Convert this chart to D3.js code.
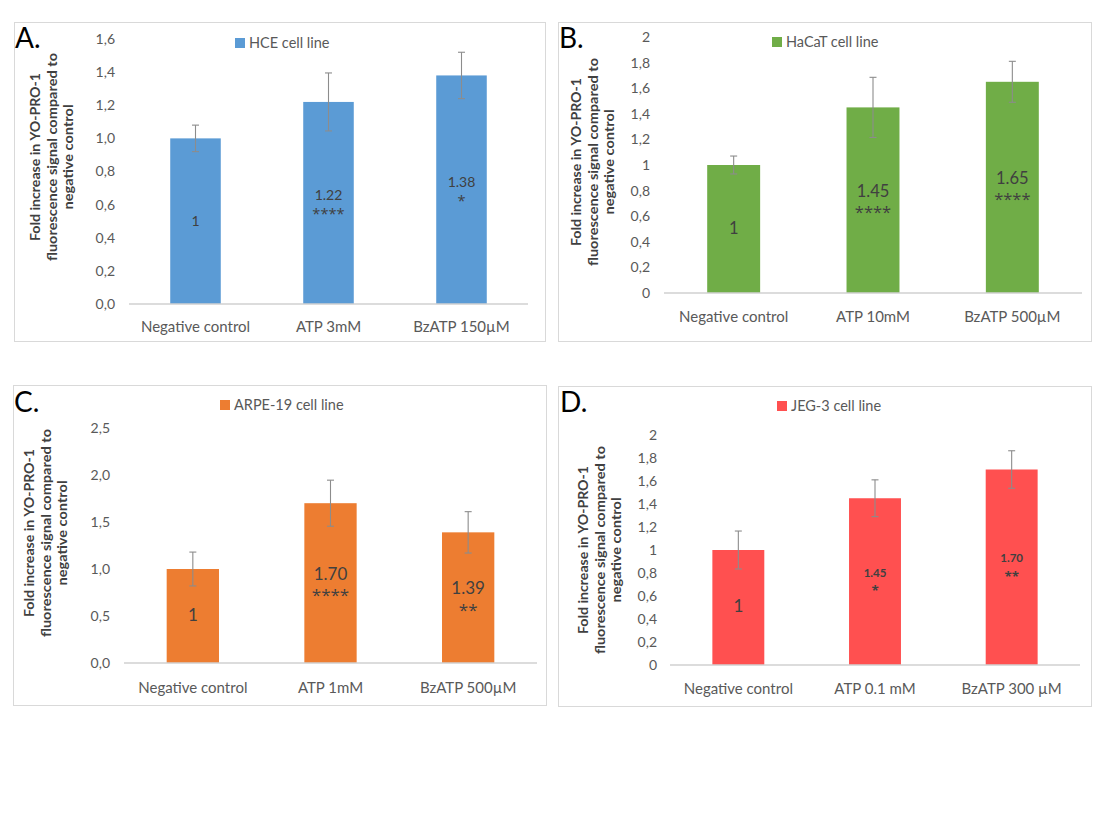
<!DOCTYPE html>
<html><head><meta charset="utf-8">
<script src="https://cdn.jsdelivr.net/npm/d3@7/dist/d3.min.js"></script>
<style>
body{margin:0;background:#fff;}
svg{display:block;font-family:Lato,"Open Sans",sans-serif;}
</style></head>
<body><svg id="c" width="1099" height="831"></svg>
<script>
// ---------- data ----------
const panelLetters = ["A.", "B.", "C.", "D."];
const legendNames = ["HCE cell line", "HaCaT cell line", "ARPE-19 cell line", "JEG-3 cell line"];
const yTitleLines = ["Fold increase in YO-PRO-1", "fluorescence signal compared to", "negative control"];

const categoriesA = ["Negative control", "ATP 3mM", "BzATP 150µM"];
const valuesA = [1, 1.22, 1.38];
const errorsA = [0.08, 0.175, 0.14];
const valueLabelsA = ["1", "1.22", "1.38"];
const starsA = ["", "****", "*"];
const yTicksA = [0, 0.2, 0.4, 0.6, 0.8, 1.0, 1.2, 1.4, 1.6];
const yTickLabelsA = ["0,0", "0,2", "0,4", "0,6", "0,8", "1,0", "1,2", "1,4", "1,6"];

const categoriesB = ["Negative control", "ATP 10mM", "BzATP 500µM"];
const valuesB = [1, 1.45, 1.65];
const errorsB = [0.07, 0.235, 0.16];
const valueLabelsB = ["1", "1.45", "1.65"];
const starsB = ["", "****", "****"];
const yTicksB = [0, 0.2, 0.4, 0.6, 0.8, 1, 1.2, 1.4, 1.6, 1.8, 2];
const yTickLabelsB = ["0", "0,2", "0,4", "0,6", "0,8", "1", "1,2", "1,4", "1,6", "1,8", "2"];

const categoriesC = ["Negative control", "ATP 1mM", "BzATP 500µM"];
const valuesC = [1, 1.70, 1.39];
const errorsC = [0.18, 0.245, 0.22];
const valueLabelsC = ["1", "1.70", "1.39"];
const starsC = ["", "****", "**"];
const yTicksC = [0, 0.5, 1.0, 1.5, 2.0, 2.5];
const yTickLabelsC = ["0,0", "0,5", "1,0", "1,5", "2,0", "2,5"];

const categoriesD = ["Negative control", "ATP 0.1 mM", "BzATP 300 µM"];
const valuesD = [1, 1.45, 1.70];
const errorsD = [0.165, 0.16, 0.163];
const valueLabelsD = ["1", "1.45", "1.70"];
const starsD = ["", "*", "**"];
const yTicksD = [0, 0.2, 0.4, 0.6, 0.8, 1, 1.2, 1.4, 1.6, 1.8, 2];
const yTickLabelsD = ["0", "0,2", "0,4", "0,6", "0,8", "1", "1,2", "1,4", "1,6", "1,8", "2"];

const colors = ["#5b9bd5", "#70ad47", "#ed7d31", "#ff5050"];

// ---------- layout ----------
const titleLengths = [168, 208, 105];
const layouts = [
  {box:[14,22,545,341], left:129, right:528, zero:304, top:39, max:1.6, tickRight:115, catY:327,
   legend:[235,38], letter:[15,48], titleX:52, titleY:157, lblSize:14, lblGap:15.5, lblShift:0, lblBold:[false,false,false], firstSize:14, starScale:1.05},
  {box:[558,22,1091,341], left:664, right:1082, zero:293, top:37, max:2, tickRight:650, catY:317,
   legend:[772,37], letter:[559,48], titleX:593, titleY:162, lblSize:16.5, lblGap:17, lblShift:-0.5, lblBold:[false,false,false], firstSize:16.5, starScale:1.0},
  {box:[13,385,546,705], left:124, right:537, zero:663, top:428, max:2.5, tickRight:110, catY:688,
   legend:[220,400], letter:[14,412], titleX:46, titleY:533, lblSize:17, lblGap:17.5, lblShift:-0.7, lblBold:[false,false,false], firstSize:17, starScale:1.0},
  {box:[558,386,1091,706], left:670, right:1080, zero:665, top:435, max:2, tickRight:657, catY:689,
   legend:[777,401], letter:[560,412], titleX:600, titleY:550, lblSize:11.5, lblGap:15, lblShift:-1.5, lblBold:[false,true,true], firstSize:17, starScale:1.15}
];

const panels = [
  {cats:categoriesA, vals:valuesA, errs:errorsA, lbls:valueLabelsA, stars:starsA, ticks:yTicksA, tickLbls:yTickLabelsA},
  {cats:categoriesB, vals:valuesB, errs:errorsB, lbls:valueLabelsB, stars:starsB, ticks:yTicksB, tickLbls:yTickLabelsB},
  {cats:categoriesC, vals:valuesC, errs:errorsC, lbls:valueLabelsC, stars:starsC, ticks:yTicksC, tickLbls:yTickLabelsC},
  {cats:categoriesD, vals:valuesD, errs:errorsD, lbls:valueLabelsD, stars:starsD, ticks:yTicksD, tickLbls:yTickLabelsD}
];

const svg = d3.select("#c");

panels.forEach((p, i) => {
  const L = layouts[i];
  const g = svg.append("g");
  const color = colors[i];

  // frame
  g.append("rect")
    .attr("x", L.box[0] + 0.5).attr("y", L.box[1] + 0.5)
    .attr("width", L.box[2] - L.box[0]).attr("height", L.box[3] - L.box[1])
    .attr("fill", "none").attr("stroke", "#d9d9d9").attr("stroke-width", 1);

  const x = d3.scaleBand().domain(p.cats).range([L.left, L.right])
    .paddingInner(0.62).paddingOuter(0.31);
  const y = d3.scaleLinear().domain([0, L.max]).range([L.zero, L.top]);

  // y axis tick labels
  const yAxis = d3.axisLeft(y).tickValues(p.ticks)
    .tickFormat((d, k) => p.tickLbls[k]).tickSize(0).tickPadding(0);
  const ya = g.append("g").attr("transform", `translate(${L.tickRight},0)`).call(yAxis);
  ya.select(".domain").remove();
  ya.selectAll("text").attr("fill", "#595959").attr("font-size", 14)
    .attr("font-family", "Lato, 'Open Sans', sans-serif");

  // bars
  g.selectAll("rect.bar").data(p.vals).join("rect").attr("class", "bar")
    .attr("x", (d, k) => x(p.cats[k])).attr("width", x.bandwidth())
    .attr("y", d => y(d)).attr("height", d => y(0) - y(d))
    .attr("fill", color);

  // baseline (x axis)
  const xAxis = d3.axisBottom(x).tickSize(0).tickPadding(0);
  const xa = g.append("g").attr("transform", `translate(0,${y(0)})`).call(xAxis);
  xa.select(".domain").attr("stroke", "#d0d0d0").attr("stroke-width", 1.5)
    .attr("d", `M${L.left},0H${L.right}`);
  xa.selectAll("text").attr("fill", "#595959").attr("font-size", 15)
    .attr("font-family", "Lato, 'Open Sans', sans-serif")
    .attr("y", L.catY - y(0)).attr("dy", "0.35em");

  // error bars
  const cx = k => x(p.cats[k]) + x.bandwidth() / 2;
  const eb = g.append("g").attr("stroke", "#8c8c8c").attr("stroke-width", 1.1).attr("fill", "none");
  p.vals.forEach((v, k) => {
    const e = p.errs[k];
    eb.append("line").attr("x1", cx(k)).attr("x2", cx(k)).attr("y1", y(v + e)).attr("y2", y(v - e));
    eb.append("line").attr("x1", cx(k) - 3.5).attr("x2", cx(k) + 3.5).attr("y1", y(v + e)).attr("y2", y(v + e));
    eb.append("line").attr("x1", cx(k) - 3.5).attr("x2", cx(k) + 3.5).attr("y1", y(v - e)).attr("y2", y(v - e));
  });

  // value labels (value + significance stars in one text element)
  p.vals.forEach((v, k) => {
    const mid = (y(0) + y(v)) / 2 + L.lblShift;
    const bold = L.lblBold[k];
    if (!p.stars[k]) {
      g.append("text").attr("x", cx(k)).attr("y", mid).attr("dy", "0.35em")
        .attr("text-anchor", "middle").attr("fill", "#404040")
        .attr("font-size", L.firstSize).text(p.lbls[k]);
    } else {
      const t = g.append("text").attr("text-anchor", "middle").attr("fill", "#404040")
        .attr("font-weight", bold ? "bold" : "normal");
      const y1 = mid - L.lblGap / 2 + 0.35 * L.lblSize;
      const starSize = L.lblSize * L.starScale;
      const y2 = mid + L.lblGap / 2 + 0.58 * starSize;
      t.append("tspan").attr("x", cx(k)).attr("y", y1).attr("font-size", L.lblSize).text(p.lbls[k]);
      t.append("tspan").attr("x", cx(k)).attr("y", y2).attr("font-size", starSize)
        .attr("font-family", "'Open Sans', Lato, sans-serif").text(p.stars[k]);
    }
  });

  // legend
  g.append("rect").attr("x", L.legend[0]).attr("y", L.legend[1]).attr("width", 10).attr("height", 10).attr("fill", color);
  g.append("text").attr("x", L.legend[0] + 14).attr("y", L.legend[1] + 5).attr("dy", "0.35em")
    .attr("fill", "#595959").attr("font-size", 14.5).text(legendNames[i]);

  // panel letter
  g.append("text").attr("x", L.letter[0]).attr("y", L.letter[1])
    .attr("fill", "#000").attr("font-size", 28).text(panelLetters[i]);

  // y title
  const t = g.append("text").attr("transform", `translate(${L.titleX},${L.titleY}) rotate(-90)`)
    .attr("text-anchor", "middle").attr("fill", "#404040").attr("font-weight", "bold").attr("font-size", 13.5);
  yTitleLines.forEach((s, k) => {
    t.append("tspan").attr("x", 0).attr("y", (k - 1) * 16.5).attr("dy", "0.35em")
      .attr("textLength", titleLengths[k]).attr("lengthAdjust", "spacingAndGlyphs").text(s);
  });
});
</script>
</body></html>
